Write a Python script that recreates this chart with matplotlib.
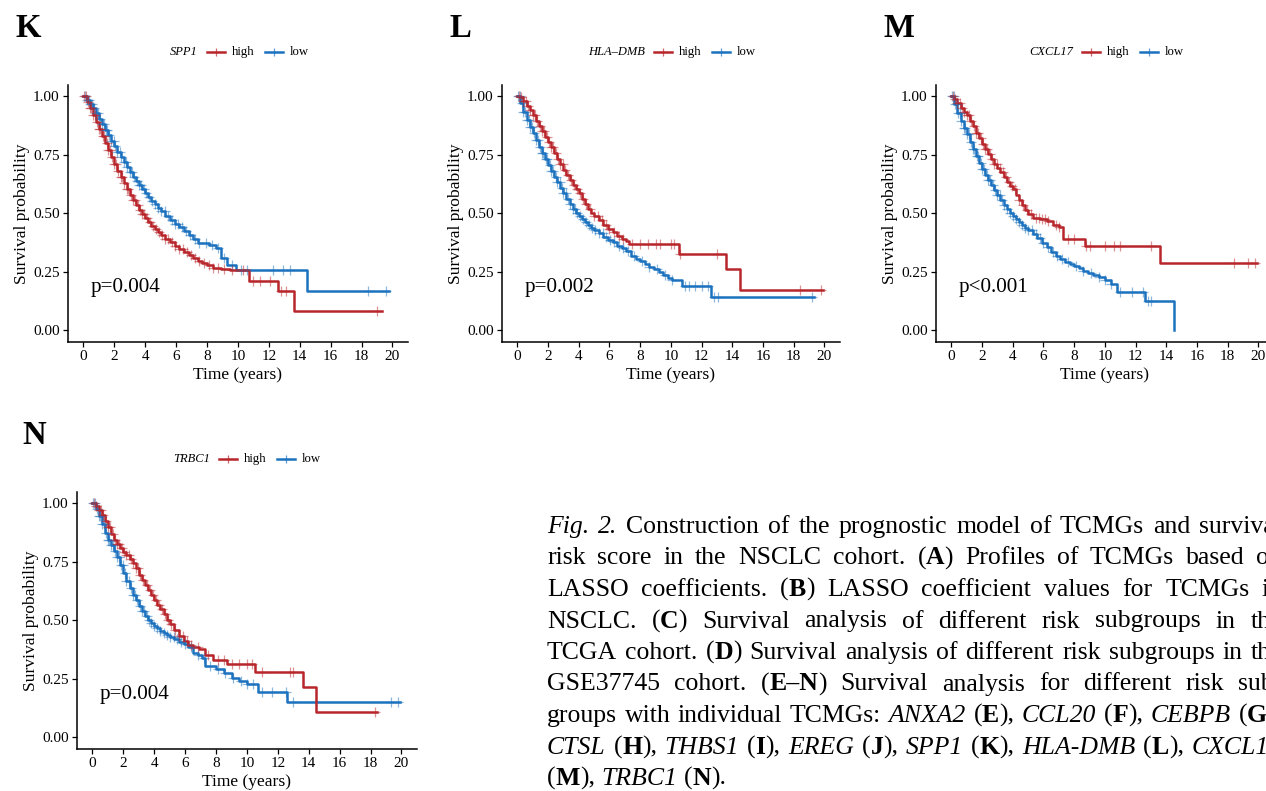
import matplotlib
matplotlib.use('Agg')
import matplotlib.pyplot as plt
from matplotlib.lines import Line2D
from matplotlib.font_manager import FontProperties
import numpy as np

plt.rcParams['font.family'] = ['Liberation Serif', 'DejaVu Serif']

W, H = 1266, 791
RED = '#B8262C'
BLUE = '#1C72BF'

# ---- data: (time in years, survival probability) step points ----
x_ticks = [0, 2, 4, 6, 8, 10, 12, 14, 16, 18, 20]
y_ticks = [0.00, 0.25, 0.50, 0.75, 1.00]

# K: SPP1
k_high = [(0, 1.0), (0.2, 0.975), (0.4, 0.948), (0.6, 0.92), (0.8, 0.89), (1.0, 0.86), (1.2, 0.83),
          (1.4, 0.80), (1.6, 0.77), (1.8, 0.74), (2.0, 0.71), (2.2, 0.68), (2.4, 0.655), (2.6, 0.63),
          (2.8, 0.605), (3.0, 0.58), (3.2, 0.555), (3.4, 0.535), (3.6, 0.515), (3.8, 0.497), (4.0, 0.478),
          (4.2, 0.462), (4.4, 0.447), (4.6, 0.433), (4.8, 0.42), (5.0, 0.408), (5.3, 0.392), (5.6, 0.376),
          (5.9, 0.361), (6.2, 0.347), (6.5, 0.334), (6.8, 0.322), (7.1, 0.31), (7.4, 0.298), (7.7, 0.287),
          (8.0, 0.277), (8.4, 0.268), (8.9, 0.262), (9.5, 0.256), (10.7, 0.21), (12.6, 0.167), (13.6, 0.082)]
k_high_end = 19.3
k_high_cens = [0.05, 0.15, 0.3, 0.4, 0.5, 0.65, 0.75, 0.85, 1.0, 1.1, 1.25, 1.35, 1.5, 1.6, 1.7, 1.85, 2.0,
               2.1, 2.25, 2.4, 2.5, 2.65, 2.8, 2.9, 3.05, 3.2, 3.35, 3.5, 3.65, 3.8, 3.95, 4.1, 4.3, 4.5, 4.7,
               4.9, 5.1, 5.3, 5.5, 5.7, 5.95, 6.2, 6.45, 6.7, 6.95, 7.2, 7.5, 7.8, 8.1, 8.4, 8.7, 9.1, 9.6,
               10.3, 11.0, 11.4, 12.1, 12.8, 13.1, 19.0]
k_low = [(0, 1.0), (0.2, 0.985), (0.4, 0.967), (0.6, 0.948), (0.8, 0.927), (1.0, 0.905), (1.2, 0.882),
         (1.4, 0.858), (1.6, 0.834), (1.8, 0.81), (2.0, 0.786), (2.2, 0.763), (2.4, 0.74), (2.6, 0.718),
         (2.8, 0.697), (3.0, 0.677), (3.2, 0.657), (3.4, 0.638), (3.6, 0.62), (3.8, 0.602), (4.0, 0.585),
         (4.2, 0.569), (4.4, 0.553), (4.6, 0.538), (4.8, 0.524), (5.0, 0.51), (5.3, 0.49), (5.6, 0.472),
         (5.9, 0.455), (6.2, 0.44), (6.5, 0.425), (6.8, 0.408), (7.1, 0.392), (7.4, 0.375), (8.1, 0.365),
         (8.6, 0.352), (8.9, 0.31), (9.3, 0.28), (9.9, 0.257), (14.5, 0.167)]
k_low_end = 19.8
k_low_cens = [0.1, 0.2, 0.35, 0.45, 0.55, 0.7, 0.8, 0.95, 1.05, 1.2, 1.3, 1.45, 1.55, 1.65, 1.8, 1.95, 2.05,
              2.2, 2.35, 2.45, 2.6, 2.75, 2.85, 3.0, 3.15, 3.3, 3.45, 3.6, 3.75, 3.9, 4.05, 4.25, 4.45, 4.65,
              4.85, 5.05, 5.25, 5.45, 5.7, 5.9, 6.15, 6.4, 6.65, 6.9, 7.2, 7.5, 7.9, 8.3, 8.7, 9.1, 9.6,
              10.2, 10.6, 12.3, 12.9, 13.4, 18.4, 19.6]

# L: HLA-DMB
l_high = [(0, 1.0), (0.2, 0.995), (0.4, 0.98), (0.6, 0.96), (0.8, 0.94), (1.0, 0.918), (1.2, 0.895),
          (1.4, 0.872), (1.6, 0.85), (1.8, 0.828), (2.0, 0.805), (2.2, 0.782), (2.4, 0.758), (2.6, 0.734),
          (2.8, 0.71), (3.0, 0.686), (3.2, 0.664), (3.4, 0.643), (3.6, 0.623), (3.8, 0.604), (4.0, 0.585),
          (4.2, 0.563), (4.4, 0.54), (4.6, 0.518), (4.8, 0.5), (5.0, 0.488), (5.3, 0.47), (5.6, 0.452),
          (5.9, 0.435), (6.2, 0.42), (6.5, 0.405), (6.8, 0.392), (7.1, 0.38), (7.3, 0.367), (10.5, 0.324),
          (13.6, 0.263), (14.5, 0.171)]
l_high_end = 19.9
l_high_cens = [0.1, 0.25, 0.4, 0.55, 0.7, 0.85, 1.0, 1.15, 1.3, 1.45, 1.6, 1.75, 1.9, 2.05, 2.2, 2.35, 2.5,
               2.65, 2.8, 2.95, 3.1, 3.3, 3.5, 3.7, 3.9, 4.1, 4.3, 4.5, 4.75, 5.0, 5.25, 5.5, 5.75, 6.0, 6.3,
               6.6, 6.9, 7.5, 8.0, 8.5, 9.0, 9.3, 10.0, 10.2, 10.6, 13.0, 18.4, 19.8]
l_low = [(0, 1.0), (0.2, 0.97), (0.4, 0.935), (0.6, 0.9), (0.8, 0.87), (1.0, 0.845), (1.2, 0.815),
         (1.4, 0.785), (1.6, 0.757), (1.8, 0.73), (2.0, 0.705), (2.2, 0.68), (2.4, 0.655), (2.6, 0.633),
         (2.8, 0.61), (3.0, 0.585), (3.2, 0.56), (3.4, 0.54), (3.6, 0.52), (3.8, 0.502), (4.0, 0.49),
         (4.2, 0.476), (4.4, 0.462), (4.6, 0.45), (4.8, 0.438), (5.0, 0.428), (5.3, 0.414), (5.6, 0.4),
         (5.9, 0.388), (6.2, 0.376), (6.5, 0.362), (6.8, 0.35), (7.1, 0.338), (7.4, 0.316), (7.7, 0.306),
         (8.0, 0.296), (8.3, 0.285), (8.6, 0.272), (8.9, 0.26), (9.2, 0.248), (9.5, 0.236), (9.8, 0.224),
         (10.1, 0.213), (10.7, 0.19), (12.6, 0.141)]
l_low_end = 19.3
l_low_cens = [0.05, 0.15, 0.3, 0.4, 0.5, 0.6, 0.75, 0.85, 0.95, 1.1, 1.2, 1.35, 1.45, 1.6, 1.7, 1.85, 1.95,
              2.1, 2.2, 2.35, 2.5, 2.6, 2.75, 2.9, 3.0, 3.15, 3.3, 3.45, 3.6, 3.75, 3.9, 4.05, 4.25, 4.45,
              4.65, 4.85, 5.05, 5.3, 5.55, 5.8, 6.05, 6.3, 6.6, 6.9, 7.2, 7.6, 8.1, 8.6, 9.1, 9.6, 10.1,
              10.9, 11.2, 11.6, 12.0, 12.4, 12.8, 13.1, 19.2]

# M: CXCL17
m_high = [(0, 1.0), (0.2, 0.99), (0.4, 0.97), (0.6, 0.952), (0.8, 0.935), (1.0, 0.918), (1.2, 0.895),
          (1.4, 0.872), (1.6, 0.845), (1.8, 0.82), (2.0, 0.797), (2.2, 0.775), (2.4, 0.752), (2.6, 0.732),
          (2.8, 0.712), (3.0, 0.695), (3.2, 0.675), (3.4, 0.655), (3.6, 0.632), (3.8, 0.618), (4.0, 0.605),
          (4.2, 0.578), (4.4, 0.555), (4.6, 0.535), (4.8, 0.512), (5.0, 0.495), (5.3, 0.48), (5.8, 0.475),
          (6.2, 0.467), (6.6, 0.448), (7.0, 0.44), (7.3, 0.392), (8.7, 0.36), (13.6, 0.289)]
m_high_end = 19.9
m_high_cens = [0.1, 0.25, 0.4, 0.55, 0.7, 0.85, 1.0, 1.15, 1.3, 1.45, 1.6, 1.75, 1.9, 2.05, 2.2, 2.35, 2.5,
               2.65, 2.8, 2.95, 3.15, 3.35, 3.55, 3.75, 3.95, 4.15, 4.4, 4.65, 4.9, 5.2, 5.5, 5.7, 5.9, 6.1,
               6.3, 6.8, 7.0, 7.6, 8.0, 8.8, 9.0, 10.0, 10.6, 11.0, 13.0, 18.4, 19.3, 19.8]
m_low = [(0, 1.0), (0.2, 0.965), (0.4, 0.93), (0.6, 0.895), (0.8, 0.865), (1.0, 0.837), (1.2, 0.805),
         (1.4, 0.775), (1.6, 0.745), (1.8, 0.715), (2.0, 0.69), (2.2, 0.665), (2.4, 0.643), (2.6, 0.622),
         (2.8, 0.6), (3.0, 0.578), (3.2, 0.556), (3.4, 0.535), (3.6, 0.517), (3.8, 0.5), (4.0, 0.488),
         (4.2, 0.475), (4.4, 0.461), (4.6, 0.449), (4.8, 0.438), (5.0, 0.428), (5.3, 0.412), (5.6, 0.393),
         (5.9, 0.374), (6.2, 0.354), (6.5, 0.335), (6.8, 0.318), (7.1, 0.305), (7.4, 0.292), (7.7, 0.283),
         (8.0, 0.276), (8.3, 0.265), (8.6, 0.254), (8.9, 0.243), (9.2, 0.235), (9.6, 0.226), (10.0, 0.215),
         (10.4, 0.2), (10.8, 0.163), (12.6, 0.124), (14.5, 0.0)]
m_low_end = 14.5
m_low_cens = [0.05, 0.15, 0.25, 0.35, 0.45, 0.55, 0.65, 0.8, 0.9, 1.0, 1.15, 1.25, 1.4, 1.5, 1.65, 1.75, 1.9,
              2.0, 2.15, 2.3, 2.4, 2.55, 2.7, 2.85, 3.0, 3.15, 3.3, 3.45, 3.6, 3.8, 4.0, 4.2, 4.4, 4.6, 4.8,
              5.0, 5.25, 5.5, 5.75, 6.0, 6.3, 6.6, 6.9, 7.2, 7.6, 8.1, 8.6, 9.1, 9.6, 10.0, 10.4, 11.0, 11.8,
              12.5, 12.8, 13.0]

# N: TRBC1
n_high = [(0, 1.0), (0.2, 0.99), (0.4, 0.97), (0.6, 0.95), (0.8, 0.925), (1.0, 0.9), (1.2, 0.87),
          (1.4, 0.845), (1.6, 0.825), (1.8, 0.807), (2.0, 0.792), (2.2, 0.777), (2.4, 0.762), (2.6, 0.745),
          (2.8, 0.722), (3.0, 0.695), (3.2, 0.672), (3.4, 0.65), (3.6, 0.628), (3.8, 0.607), (4.0, 0.588),
          (4.2, 0.567), (4.4, 0.547), (4.6, 0.525), (4.8, 0.503), (5.0, 0.483), (5.3, 0.46), (5.6, 0.435),
          (5.9, 0.41), (6.2, 0.393), (6.5, 0.385), (6.9, 0.378), (7.3, 0.35), (7.8, 0.332), (8.7, 0.313),
          (10.5, 0.28), (13.6, 0.214), (14.5, 0.107)]
n_high_end = 18.4
n_high_cens = [0.1, 0.25, 0.4, 0.55, 0.7, 0.85, 1.0, 1.15, 1.3, 1.45, 1.6, 1.75, 1.9, 2.05, 2.2, 2.35, 2.5,
               2.65, 2.8, 2.95, 3.1, 3.3, 3.5, 3.7, 3.9, 4.1, 4.3, 4.5, 4.7, 4.9, 5.1, 5.35, 5.6, 5.85, 6.1,
               6.4, 6.8, 7.5, 8.1, 8.5, 9.0, 9.5, 10.0, 10.3, 11.0, 12.8, 13.0, 18.3]
n_low = [(0, 1.0), (0.2, 0.975), (0.4, 0.945), (0.6, 0.91), (0.8, 0.875), (1.0, 0.845), (1.2, 0.82),
         (1.4, 0.795), (1.6, 0.77), (1.8, 0.735), (2.0, 0.703), (2.2, 0.67), (2.4, 0.64), (2.6, 0.61),
         (2.8, 0.585), (3.0, 0.56), (3.2, 0.54), (3.4, 0.52), (3.6, 0.503), (3.8, 0.49), (4.0, 0.477),
         (4.2, 0.466), (4.4, 0.455), (4.6, 0.446), (4.8, 0.437), (5.0, 0.428), (5.3, 0.418), (5.6, 0.407),
         (5.9, 0.397), (6.2, 0.385), (6.5, 0.362), (6.8, 0.35), (7.1, 0.34), (7.3, 0.306), (8.0, 0.29),
         (8.5, 0.275), (9.0, 0.254), (9.5, 0.24), (10.0, 0.228), (10.7, 0.195), (12.6, 0.15)]
n_low_end = 19.9
n_low_cens = [0.05, 0.15, 0.3, 0.4, 0.5, 0.6, 0.75, 0.85, 1.0, 1.1, 1.2, 1.35, 1.45, 1.6, 1.7, 1.85, 1.95,
              2.1, 2.2, 2.35, 2.5, 2.6, 2.75, 2.9, 3.05, 3.2, 3.35, 3.5, 3.65, 3.8, 4.0, 4.2, 4.4, 4.6, 4.8,
              5.0, 5.25, 5.5, 5.75, 6.0, 6.4, 6.8, 7.2, 7.6, 8.1, 8.6, 9.1, 9.6, 10.0, 10.4, 11.0, 11.6,
              12.5, 13.0, 19.3, 19.8]

genes = ['SPP1', 'HLA\u2013DMB', 'CXCL17', 'TRBC1']
letters = ['K', 'L', 'M', 'N']
pvals = ['p=0.004', 'p=0.002', 'p<0.001', 'p=0.004']

caption_lines = [
    "_Fig. 2._ Construction of the prognostic model of TCMGs and survival",
    "risk score in the NSCLC cohort. (*A*) Profiles of TCMGs based on",
    "LASSO coefficients. (*B*) LASSO coefficient values for TCMGs in",
    "NSCLC. (*C*) Survival analysis of different risk subgroups in the",
    "TCGA cohort. (*D*) Survival analysis of different risk subgroups in the",
    "GSE37745 cohort. (*E\u2013N*) Survival analysis for different risk sub-",
    "groups with individual TCMGs: _ANXA2_ (*E*), _CCL20_ (*F*), _CEBPB_ (*G*),",
    "_CTSL_ (*H*), _THBS1_ (*I*), _EREG_ (*J*), _SPP1_ (*K*), _HLA-DMB_ (*L*), _CXCL17_",
    "(*M*), _TRBC1_ (*N*).",
]

curves = [
    ((k_high, k_high_end, k_high_cens), (k_low, k_low_end, k_low_cens)),
    ((l_high, l_high_end, l_high_cens), (l_low, l_low_end, l_low_cens)),
    ((m_high, m_high_end, m_high_cens), (m_low, m_low_end, m_low_cens)),
    ((n_high, n_high_end, n_high_cens), (n_low, n_low_end, n_low_cens)),
]

# ---- layout in pixels: (axes left, axes bottom, x of t=0, x of t=20) ----
panel_px = [(68, 342, 83, 392), (502, 342, 517, 824), (936, 342, 951, 1258), (77, 749, 91, 400)]
letter_px = [(16, 37), (450, 37), (884, 37), (22, 444)]
legend_px = [(207, 52), (654, 52), (1082, 52), (219, 459)]


def fx(x):
    return x / W


def fy(y):
    return 1 - y / H


fig = plt.figure(figsize=(W / 100, H / 100), dpi=100)


def draw_curve(ax, pts, end, cens, color):
    t = [p[0] for p in pts] + [end]
    s = [p[1] for p in pts] + [pts[-1][1]]
    ax.step(t, s, where='post', color=color, lw=1.8, zorder=3)
    idx = np.searchsorted(t, cens, side='right') - 1
    ax.plot(cens, np.array(s)[idx], ls='none', marker='+', ms=6.5, mew=0.9,
            color=color, alpha=0.5, zorder=4)


for i in range(4):
    left, bottom, x0, x20 = panel_px[i]
    ppy = (x20 - x0) / 20.0
    ax = fig.add_axes([fx(left), fy(bottom), 22 * ppy / W, 1.1 * 234 / H])
    ax.set_xlim(-1, 21)
    ax.set_ylim(-0.05, 1.05)
    hi, lo = curves[i]
    draw_curve(ax, *lo, BLUE)
    draw_curve(ax, *hi, RED)
    for side in ['top', 'right']:
        ax.spines[side].set_visible(False)
    for side in ['left', 'bottom']:
        ax.spines[side].set_linewidth(1.1)
    ax.set_xticks(x_ticks)
    ax.set_yticks(y_ticks)
    ax.set_yticklabels(['%.2f' % v for v in y_ticks])
    ax.tick_params(labelsize=11, length=3.5, width=0.9, pad=2.5, colors='black')
    ax.set_xlabel('Time (years)', fontsize=12.6, labelpad=2.5)
    ax.set_ylabel('Survival probability', fontsize=12.6, labelpad=2)
    ax.text(0.45, 0.165, pvals[i], fontsize=15.2, ha='left', va='baseline')

    lx, ly = letter_px[i]
    fig.text(fx(lx), fy(ly), letters[i], fontsize=23.7, fontweight='bold', va='baseline')

    kx, ky = legend_px[i]
    fig.text(fx(kx - 9), fy(ky), genes[i], fontsize=9, style='italic', ha='right', va='center')
    for dx, col, lab in [(0, RED, 'high'), (58, BLUE, 'low')]:
        fig.add_artist(Line2D([fx(kx + dx), fx(kx + dx + 18)], [fy(ky), fy(ky)],
                              transform=fig.transFigure, color=col, lw=1.8))
        fig.add_artist(Line2D([fx(kx + dx + 9)], [fy(ky)], transform=fig.transFigure,
                              color=col, marker='+', ms=6, mew=0.9, alpha=0.7))
        fig.text(fx(kx + dx + 25), fy(ky), lab, fontsize=9.2, ha='left', va='center')


# ---- justified caption (_italic_, *bold*) ----
def parse_runs(line):
    runs, style, buf = [], 'n', ''
    for ch in line:
        if ch in '_*':
            if buf:
                runs.append((buf, style))
                buf = ''
            tog = 'i' if ch == '_' else 'b'
            style = 'n' if style == tog else tog
        else:
            buf += ch
    if buf:
        runs.append((buf, style))
    words = [[]]
    for text, st in runs:
        for j, part in enumerate(text.split(' ')):
            if j > 0:
                words.append([])
            if part:
                words[-1].append((part, st))
    return [w for w in words if w]


cap_size = 18.5
props = {
    'n': FontProperties(family='Liberation Serif', size=cap_size),
    'i': FontProperties(family='Liberation Serif', size=cap_size, style='italic'),
    'b': FontProperties(family='Liberation Serif', size=cap_size, weight='bold'),
}
renderer = fig.canvas.get_renderer()


def text_w(s, st):
    return renderer.get_text_width_height_descent(s, props[st], ismath=False)[0]


space_w = text_w('a a', 'n') - text_w('aa', 'n')
cap_left, cap_right = 547, 1282
cap_base0, cap_pitch = 533, 31.5

for li, line in enumerate(caption_lines):
    words = parse_runs(line)
    widths = [sum(text_w(t, st) for t, st in w) for w in words]
    if li < len(caption_lines) - 1:
        gap = (cap_right - cap_left - sum(widths)) / (len(words) - 1)
    else:
        gap = space_w
    x = cap_left
    y = cap_base0 + li * cap_pitch
    for w, ww in zip(words, widths):
        xx = x
        for t, st in w:
            fig.text(fx(xx), fy(y), t, fontproperties=props[st], ha='left', va='baseline')
            xx += text_w(t, st)
        x += ww + gap

fig.savefig('out.png', dpi=100)
